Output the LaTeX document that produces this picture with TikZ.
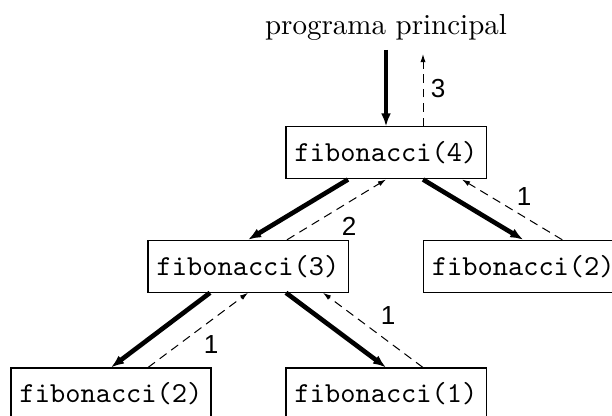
\documentclass[tikz,border=0pt]{standalone}
\usepackage{fontspec}
\newfontfamily\labfont{Liberation Sans}
\usetikzlibrary{calc,arrows.meta}
\begin{document}
\begin{tikzpicture}[x=0.345pt,y=-0.345pt,
  fbox/.style={draw,line width=0.35pt,minimum width=69pt,minimum height=17.94pt,inner sep=0pt,font=\ttfamily},
  callarr/.style={line width=1.6pt,-{Latex[length=4.5pt,width=3.4pt]}},
  retarr/.style={line width=0.35pt,dash pattern=on 3pt off 2pt,-{Latex[length=2.8pt,width=1.8pt]}},
  lab/.style={font=\labfont\fontsize{9}{10}\selectfont,inner sep=0pt}]
\clip (0,0) rectangle (612,416);
\node[inner sep=0pt] (main) at (386,27) {programa principal};
\node[fbox] (f4) at (386,153) {fibonacci(4)};
\node[fbox] (f3) at (248,266.3) {fibonacci(3)};
\node[fbox] (f2r) at (523.3,266.3) {fibonacci(2)};
\node[fbox] (f2l) at (111,394) {fibonacci(2)};
\node[fbox] (f1) at (386,394) {fibonacci(1)};
\coordinate (mainout) at (386,50);
\coordinate (mainin) at (423,54);
% main <-> f4
\draw[callarr] (mainout) -- (f4.north);
\draw[retarr] ($(f4.north)+(37,0)$) -- (mainin);
\node[lab] (l3) at (438,89) {3};
% f4 <-> f3
\draw[callarr] ($(f4.south)+(-38,0)$) -- (f3.north);
\draw[retarr] ($(f3.north)+(39,0)$) -- (f4.south);
\node[lab] (l2) at (349,226) {2};
% f4 <-> f2r
\draw[callarr] ($(f4.south)+(37,0)$) -- (f2r.north);
\draw[retarr] ($(f2r.north)+(39,0)$) -- ($(f4.south)+(76,0)$);
\node[lab] (l1a) at (524,197) {1};
% f3 <-> f2l
\draw[callarr] ($(f3.south)+(-38,0)$) -- (f2l.north);
\draw[retarr] ($(f2l.north)+(37,0)$) -- (f3.south);
\node[lab] (l1b) at (211,345) {1};
% f3 <-> f1
\draw[callarr] ($(f3.south)+(38,0)$) -- (f1.north);
\draw[retarr] ($(f1.north)+(37,0)$) -- ($(f3.south)+(75,0)$);
\node[lab] (l1c) at (388,316) {1};
\end{tikzpicture}
\end{document}
